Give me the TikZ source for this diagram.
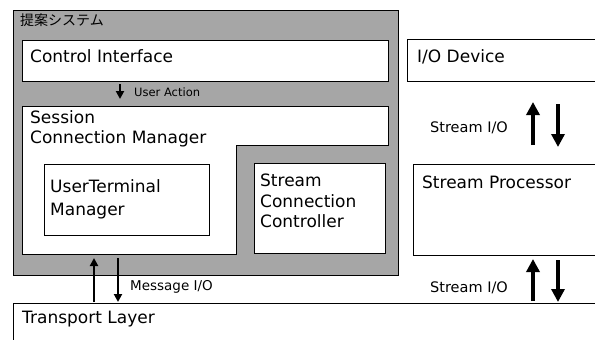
\documentclass[tikz,border=0pt]{standalone}
\usepackage{fontspec}
\setmainfont{DejaVu Sans}
\newfontfamily\jpfont{Noto Sans CJK JP}
\usetikzlibrary{positioning,arrows.meta}

\begin{document}
\begin{tikzpicture}[x=1pt, y=-1pt]
    \tikzset{
        box/.style = {rectangle, draw=black, line width=1pt, fill=white, anchor=north west, inner sep=0pt},
        graybox/.style = {box, fill=black!35, line width=1.3pt},
        lbl/.style = {anchor=west, inner sep=0pt, align=left, font=\fontsize{17}{20.5}\selectfont},
        small/.style = {anchor=west, inner sep=0pt, font=\fontsize{14.5}{16}\selectfont},
        arrow/.style = {line width=2pt, -{Triangle[width=8pt,length=8pt]}},
        bigarrow/.style = {line width=4.5pt, -{Triangle[width=13pt,length=13pt]}}
    }
    \useasboundingbox (0,0) rectangle (595,340);
    \clip (0,0) rectangle (595,340);

    % proposed system
    \node (system) [graybox, minimum width=385pt, minimum height=265pt] at (13,10) {};
    \node (title) [anchor=west, inner sep=0pt, font=\jpfont\fontsize{14}{16}\selectfont] at (20,20) {提案システム};
    \node (ctrl) [box, minimum width=366pt, minimum height=41pt] at (22,40) {};
    \node (ctrlLabel) [lbl] at (30,56) {Control Interface};
    \draw [line width=1pt, fill=white] (22,106) -- (388,106) -- (388,145) -- (236,145) -- (236,254) -- (22,254) -- cycle;
    \node (scmLabel) [lbl] at (30,129) {Session\\Connection Manager};
    \node (utm) [box, minimum width=165pt, minimum height=71pt] at (44,164) {};
    \node (utmLabel) [lbl, font=\fontsize{17}{23}\selectfont] at (50,199.5) {UserTerminal\\Manager};
    \node (scc) [box, minimum width=131pt, minimum height=90pt] at (254,163) {};
    \node (sccLabel) [lbl] at (260,201) {Stream\\Connection\\Controller};

    \coordinate (ua0) at (120,84);
    \coordinate (ua1) at (120,99);
    \draw [arrow] (ua0) -- (ua1);
    \node (uaLabel) [small, font=\fontsize{11.5}{13}\selectfont, right=14pt of ua0, yshift=-8pt, anchor=west] {User Action};

    % right side
    \node (iodev) [box, minimum width=200pt, minimum height=42pt] at (407,39) {};
    \node (iodevLabel) [lbl] at (417,57) {I/O Device};
    \node (sproc) [box, minimum width=200pt, minimum height=91pt] at (413,164) {};
    \node (sprocLabel) [lbl] at (422,182) {Stream Processor};
    \node (transport) [box, minimum width=600pt, minimum height=60pt] at (13,303) {};
    \node (transportLabel) [lbl] at (22,319) {Transport Layer};

    \coordinate (s1a) at (533,145);
    \coordinate (s1b) at (533,102);
    \coordinate (s1c) at (558,104);
    \coordinate (s1d) at (558,147);
    \draw [bigarrow] (s1a) -- (s1b);
    \draw [bigarrow] (s1c) -- (s1d);
    \node (s1Label) [small] at (430,128) {Stream I/O};

    \coordinate (s2a) at (533,301);
    \coordinate (s2b) at (533,259);
    \coordinate (s2c) at (558,260);
    \coordinate (s2d) at (558,302);
    \draw [bigarrow] (s2a) -- (s2b);
    \draw [bigarrow] (s2c) -- (s2d);
    \node (s2Label) [small] at (430,288) {Stream I/O};

    \coordinate (m1a) at (94,302);
    \coordinate (m1b) at (94,258);
    \coordinate (m2a) at (118,258);
    \coordinate (m2b) at (118,302);
    \draw [arrow] (m1a) -- (m1b);
    \draw [arrow] (m2a) -- (m2b);
    \node (msgLabel) [small, font=\fontsize{13.5}{15}\selectfont] at (130,287) {Message I/O};
\end{tikzpicture}
\end{document}
